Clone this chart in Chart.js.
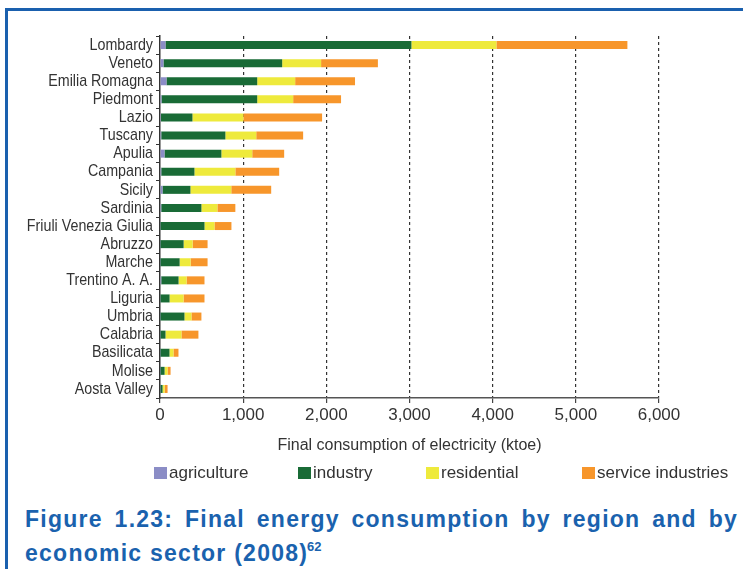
<!DOCTYPE html>
<html>
<head>
<meta charset="utf-8">
<script src="https://cdn.jsdelivr.net/npm/chart.js@4"></script>
<style>
  html, body { margin: 0; padding: 0; background: #fff; }
  body { width: 743px; height: 569px; position: relative; overflow: hidden; }
  #frame { position: absolute; left: 5px; top: 8px; right: 0; bottom: 0;
           border-top: 3px solid #1a60ae; border-left: 3px solid #1a60ae; }
  #chart { position: absolute; left: 0; top: 0; }
  #caption { position: absolute; left: 25px; top: 502px; width: 713px;
             font-family: 'Liberation Sans', Arial, sans-serif; font-weight: bold;
             font-size: 23px; line-height: 34px; letter-spacing: 1.25px;
             color: #1a62ae; text-align: justify; }
  #caption sup { font-size: 13px; letter-spacing: 0; vertical-align: 10px; line-height: 0; }
</style>
</head>
<body>
<div id="frame"></div>
<canvas id="chart" width="743" height="500"></canvas>
<div id="caption">Figure 1.23: Final energy consumption by region and by economic sector (2008<span style="letter-spacing:0">)</span><sup>62</sup></div>
<script>
// dati (ktoe, 2008)
const regions = ['Lombardy', 'Veneto', 'Emilia Romagna', 'Piedmont', 'Lazio', 'Tuscany', 'Apulia',
    'Campania', 'Sicily', 'Sardinia', 'Friuli Venezia Giulia', 'Abruzzo', 'Marche', 'Trentino A. A.',
    'Liguria', 'Umbria', 'Calabria', 'Basilicata', 'Molise', 'Aosta Valley'];
const agriculture = [66, 42, 78, 18, 12, 15, 54, 15, 30, 15, 5, 4, 4, 15, 5, 4, 4, 4, 3, 2];
const industry    = [2957, 1427, 1091, 1151, 378, 771, 684, 399, 336, 483, 530, 280, 232, 208, 110, 290, 62, 110, 52, 29];
const residential = [1022, 468, 456, 432, 612, 371, 371, 492, 491, 192, 120, 108, 132, 96, 168, 84, 192, 48, 36, 24];
const services    = [1575, 683, 720, 576, 947, 564, 384, 527, 480, 216, 204, 180, 204, 216, 252, 120, 204, 60, 36, 36];
const xTicks = [0, 1000, 2000, 3000, 4000, 5000, 6000];

const sectors = [
    { label: 'agriculture', data: agriculture, color: '#8b8dc6', legendX: 154 },
    { label: 'industry', data: industry, color: '#196b36', legendX: 298 },
    { label: 'residential', data: residential, color: '#eeea3c', legendX: 426 },
    { label: 'service industries', data: services, color: '#f7962b', legendX: 582 }
];

Chart.defaults.font.family = "'Liberation Sans', Arial, sans-serif";
Chart.defaults.color = '#333';

// etichette delle regioni in carattere stretto (compressione orizzontale)
const regionLabels = {
    id: 'regionLabels',
    afterDraw(chart) {
        const c = chart.ctx;
        const y = chart.scales.y;
        const right = y.right - 7;
        c.save();
        c.font = "17px 'Liberation Sans', Arial, sans-serif";
        c.fillStyle = '#333';
        c.textAlign = 'right';
        c.textBaseline = 'middle';
        regions.forEach((r, i) => {
            const py = y.getPixelForValue(i);
            c.save();
            c.translate(right, py);
            c.scale(0.84, 1);
            c.fillText(r, 0, 0);
            c.restore();
        });
        c.restore();
    }
};

// legenda disegnata a mano sotto il grafico
const legendPlugin = {
    id: 'fixedLegend',
    afterDraw(chart) {
        const c = chart.ctx;
        c.save();
        c.font = "17px 'Liberation Sans', Arial, sans-serif";
        c.textBaseline = 'middle';
        sectors.forEach(s => {
            c.fillStyle = s.color;
            c.fillRect(s.legendX, 467, 13, 12);
            c.fillStyle = '#333';
            c.fillText(s.label, s.legendX + 15, 473);
        });
        c.restore();
    }
};

new Chart(document.getElementById('chart'), {
    type: 'bar',
    data: {
        labels: regions,
        datasets: sectors.map(s => ({
            label: s.label,
            data: s.data,
            backgroundColor: s.color,
            borderWidth: 0,
            categoryPercentage: 0.8,
            barPercentage: 0.553
        }))
    },
    options: {
        indexAxis: 'y',
        responsive: false,
        animation: false,
        layout: { padding: { left: 0, top: 36, right: 84, bottom: 43 } },
        plugins: {
            legend: { display: false },
            tooltip: { enabled: false }
        },
        scales: {
            x: {
                stacked: true,
                min: 0,
                max: 6000,
                afterBuildTicks: axis => { axis.ticks = xTicks.map(v => ({ value: v })); },
                afterFit: axis => { axis.height = 59; },
                ticks: {
                    padding: 2,
                    font: { size: 17 },
                    color: '#333',
                    callback: v => v.toLocaleString('en-US')
                },
                grid: {
                    color: ctx => (ctx.tick && ctx.tick.value === 0) ? 'rgba(0,0,0,0)' : '#333',
                    lineWidth: 1.2,
                    tickBorderDash: [],
                    tickColor: '#444',
                    tickLength: 5
                },
                border: { display: true, color: '#555', width: 1.5, dash: [3, 3] },
                title: {
                    display: true,
                    text: 'Final consumption of electricity (ktoe)',
                    font: { size: 16 },
                    color: '#333',
                    padding: { top: 10, bottom: 2 }
                }
            },
            y: {
                stacked: true,
                afterFit: axis => { axis.width = 160; },
                ticks: { display: false },
                grid: {
                    offset: true,
                    drawOnChartArea: false,
                    tickLength: 4,
                    tickColor: '#333'
                },
                border: { display: true, color: '#333', width: 1.5 }
            }
        }
    },
    plugins: [regionLabels, legendPlugin]
});
</script>
</body>
</html>
